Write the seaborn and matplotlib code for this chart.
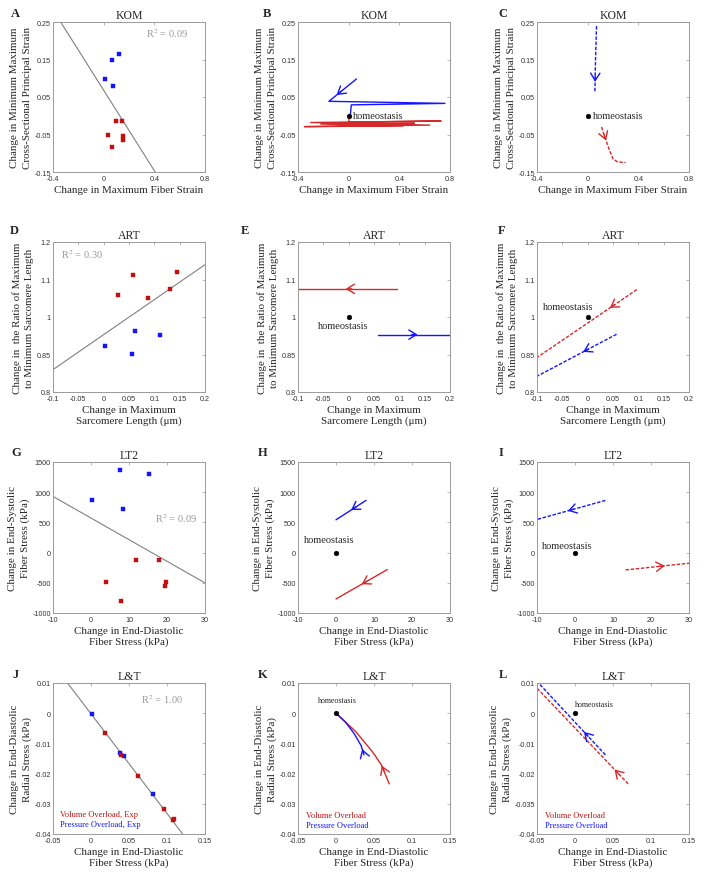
import numpy as np
import pandas as pd
import matplotlib
matplotlib.use("Agg")
import matplotlib.pyplot as plt
import seaborn as sns

sns.set_theme(style="white")
plt.rcParams['font.family'] = ['Liberation Serif', 'DejaVu Serif']
plt.rcParams['mathtext.fontset'] = 'stix'

BLUE = "#1414ff"
RED = "#c01010"
RED_LINE = "#d42a2a"
GRAY_FIT = "#808080"

# ---------------- data ----------------
titles = ["KOM", "ART", "LT2", "L&T"]
letters = ["A", "B", "C", "D", "E", "F", "G", "H", "I", "J", "K", "L"]

xlabels = ["Change in Maximum Fiber Strain",
           "Change in Maximum\nSarcomere Length (\u03bcm)",
           "Change in End-Diastolic\nFiber Stress (kPa)",
           "Change in End-Diastolic\nFiber Stress (kPa)"]
ylabels = ["Change in Minimum Maximum\nCross-Sectional Principal Strain",
           "Change in  the Ratio of Maximum\nto Minimum Sarcomere Length",
           "Change in End-Systolic\nFiber Stress (kPa)",
           "Change in End-Diastolic\nRadial Stress (kPa)"]

xlims = [(-0.4, 0.8), (-0.1, 0.2), (-10, 30), (-0.05, 0.15)]
ylims = [(-0.15, 0.25), (0.8, 1.2), (-1000, 1500), (-0.04, 0.01)]
xticks = [[-0.4, 0, 0.4, 0.8],
          [-0.1, -0.05, 0, 0.05, 0.1, 0.15, 0.2],
          [-10, 0, 10, 20, 30],
          [-0.05, 0, 0.05, 0.1, 0.15]]
xticklabels = [["-0.4", "0", "0.4", "0.8"],
               ["-0.1", "-0.05", "0", "0.05", "0.1", "0.15", "0.2"],
               ["-10", "0", "10", "20", "30"],
               ["-0.05", "0", "0.05", "0.1", "0.15"]]
yticks = [[-0.15, -0.05, 0.05, 0.15, 0.25],
          [0.8, 0.9, 1.0, 1.1, 1.2],
          [-1000, -500, 0, 500, 1000, 1500],
          [-0.04, -0.03, -0.02, -0.01, 0, 0.01]]
yticklabels = [["-0.15", "-0.05", "0.05", "0.15", "0.25"],
               ["0.8", "0.85", "1", "1.1", "1.2"],
               ["-1000", "-500", "0", "500", "1000", "1500"],
               ["-0.04", "-0.03", "-0.02", "-0.01", "0", "0.01"]]
yticklabels_L = ["-0.04", "-0.035", "-0.02", "-0.01", "0", "0.01"]

# Column 1: experimental scatter (blue = pressure overload, red = volume overload)
A_blue_x = [0.118, 0.066, 0.008, 0.071]
A_blue_y = [0.166, 0.148, 0.098, 0.080]
A_red_x = [0.094, 0.141, 0.037, 0.155, 0.155, 0.068]
A_red_y = [-0.015, -0.015, -0.050, -0.053, -0.065, -0.082]
A_fit = (0.068, -0.536)   # intercept, slope
A_r2 = "R$^2$ = 0.09"

D_blue_x = [0.002, 0.061, 0.111, 0.055]
D_blue_y = [0.924, 0.964, 0.951, 0.902]
D_red_x = [0.058, 0.145, 0.028, 0.087, 0.130]
D_red_y = [1.112, 1.119, 1.060, 1.050, 1.075]
D_fit = (0.953, 0.933)
D_r2 = "R$^2$ = 0.30"

G_blue_x = [7.6, 15.3, 0.2, 8.5]
G_blue_y = [1373, 1295, 875, 720]
G_red_x = [11.9, 17.9, 3.9, 19.8, 19.6, 8.0]
G_red_y = [-121, -121, -480, -491, -546, -801]
G_fit = (572, -35.8)
G_r2 = "R$^2$ = 0.09"

J_blue_x = [0.0018, 0.0376, 0.043, 0.081]
J_blue_y = [-0.0002, -0.0131, -0.0143, -0.0268]
J_red_x = [0.019, 0.040, 0.0615, 0.096, 0.108, 0.109]
J_red_y = [-0.0066, -0.0137, -0.0208, -0.0317, -0.0352, -0.0350]
J_fit = (-0.0002, -0.33)
J_r2 = "R$^2$ = 1.00"

# Column 2: model trajectories (solid)
B_blue_x = [0.061, -0.156, 0.760, 0.021, 0.013]
B_blue_y = [0.098, 0.0385, 0.033, 0.029, 0.002]
B_red_x = [0.004, 0.0, 0.730, -0.300, 0.640, -0.350, 0.430, -0.220, 0.520, -0.080, 0.300, -0.150, 0.200]
B_red_y = [-0.002, -0.017, -0.014, -0.018, -0.025, -0.029, -0.027, -0.022, -0.020, -0.024, -0.026, -0.021, -0.019]

E_blue_x = [0.058, 0.2]
E_blue_y = [0.953, 0.953]
E_red_x = [0.096, -0.1]
E_red_y = [1.075, 1.075]

H_blue_x = [7.9, 0.0]
H_blue_y = [864, 543]
H_red_x = [13.5, 0.0]
H_red_y = [-281, -768]

K_blue_x = [0.0, 0.013, 0.024, 0.033, 0.036]
K_blue_y = [0.0, -0.0031, -0.0068, -0.0107, -0.0131]
K_red_x = [0.0, 0.026, 0.048, 0.060, 0.070]
K_red_y = [0.0, -0.0061, -0.0128, -0.0172, -0.0234]

# Column 3: model trajectories (dashed)
C_blue_x = [0.07, 0.062, 0.057]
C_blue_y = [0.239, 0.15, 0.064]
C_red_x = [0.11, 0.14, 0.17, 0.20, 0.235, 0.30]
C_red_y = [-0.030, -0.061, -0.090, -0.115, -0.123, -0.125]

F_blue_x = [0.057, -0.1]
F_blue_y = [0.954, 0.842]
F_red_x = [0.097, -0.1]
F_red_y = [1.073, 0.892]

I_blue_x = [8.0, -10.0]
I_blue_y = [864, 549]
I_red_x = [13.3, 30.0]
I_red_y = [-287, -176]

L_blue_x = [0.040, -0.048]
L_blue_y = [-0.0138, 0.0100]
L_red_x = [0.070, -0.050]
L_red_y = [-0.0234, 0.0083]

# arrow positions (fraction along path, direction +1 = along path order)
arrows = {
    "B": [("blue", 0.10, 1)],
    "C": [("blue", 0.85, 1), ("red", 0.30, 1)],
    "E": [("blue", 0.55, 1), ("red", 0.52, 1)],
    "F": [("blue", 0.42, 1), ("red", 0.27, 1)],
    "H": [("blue", 0.50, 1), ("red", 0.50, 1)],
    "I": [("blue", 0.55, 1), ("red", 0.62, 1)],
    "K": [("blue", 0.92, -1), ("red", 0.78, -1)],
    "L": [("blue", 0.32, 1), ("red", 0.15, 1)],
}

# ---------------- layout ----------------
W, H = 704, 879
fig = plt.figure(figsize=(W / 100, H / 100), dpi=100)
col_px = [(53, 205), (298, 450), (537, 689)]
row_px = [(23, 173), (243, 393), (463, 614), (684, 835)]

letter_px = [[(15, 14), (267, 14), (503, 14)],
             [(14, 231), (245, 231), (502, 231)],
             [(16, 453), (263, 453), (501, 453)],
             [(16, 675), (263, 675), (503, 675)]]

TICKFS = 5.2
LABFS = 7.9


def make_ax(r, c):
    (x0, x1), (y0, y1) = col_px[c], row_px[r]
    ax = fig.add_axes([x0 / W, 1 - y1 / H, (x1 - x0) / W, (y1 - y0) / H])
    ax.set_xlim(*xlims[r])
    ax.set_ylim(*ylims[r])
    ax.set_xticks(xticks[r])
    ax.set_xticklabels(xticklabels[r], fontfamily='Liberation Sans')
    ax.set_yticks(yticks[r])
    ylab = yticklabels_L if (r == 3 and c == 2) else yticklabels[r]
    ax.set_yticklabels(ylab, fontfamily='Liberation Sans')
    ax.tick_params(direction='in', length=2, width=0.5, colors='#9a9a9a',
                   labelcolor='#333333', labelsize=TICKFS, pad=1.5,
                   top=True, right=True)
    ax.tick_params(axis='x', pad=2.2)
    for s in ax.spines.values():
        s.set_color('#9a9a9a')
        s.set_linewidth(0.7)
    ax.set_xlabel(xlabels[r], fontsize=LABFS, labelpad=2, linespacing=1.2)
    ax.set_ylabel(ylabels[r], fontsize=LABFS, labelpad=2, linespacing=1.45)
    ax.set_title(titles[r], fontsize=LABFS + 0.6, pad=3)
    lx, ly = letter_px[r][c]
    fig.text(lx / W, 1 - ly / H, letters[r * 3 + c], fontsize=9,
             fontweight='bold', ha='center', va='center')
    return ax


def scatter(ax, bx, by, rx, ry, fit, r2, r2pos, r):
    xs = np.array(xlims[r])
    fx = np.linspace(xs[0], xs[1], 2)
    sns.lineplot(x=fx, y=fit[0] + fit[1] * fx, ax=ax, color=GRAY_FIT, lw=0.8)
    sns.scatterplot(x=bx, y=by, ax=ax, color=BLUE, marker='s', s=9,
                    edgecolor=BLUE, linewidth=0.3, zorder=3)
    sns.scatterplot(x=rx, y=ry, ax=ax, color=RED, marker='s', s=9,
                    edgecolor=RED, linewidth=0.3, zorder=3)
    ax.text(r2pos[0], r2pos[1], r2, transform=ax.transAxes, color='#999999',
            fontsize=7.5, ha='center', va='center')


def path_point(ax, xs, ys, frac):
    pts = ax.transData.transform(np.column_stack([xs, ys]))
    seg = np.hypot(*np.diff(pts, axis=0).T)
    cum = np.concatenate([[0], np.cumsum(seg)])
    L = frac * cum[-1]
    i = min(np.searchsorted(cum, L) - 1, len(seg) - 1)
    i = max(i, 0)
    t = (L - cum[i]) / seg[i]
    p = pts[i] + t * (pts[i + 1] - pts[i])
    d = (pts[i + 1] - pts[i]) / seg[i]
    return p, d


def traj(ax, xs, ys, color, dashed):
    df = pd.DataFrame({"x": xs, "y": ys})
    sns.lineplot(data=df, x="x", y="y", ax=ax, sort=False, estimator=None,
                 color=color, lw=1.0, linestyle=(0, (2.5, 1.2)) if dashed else '-')


def arrow(ax, xs, ys, color, frac, sign):
    p, d = path_point(ax, xs, ys, frac)
    d = d * sign
    inv = ax.transData.inverted()
    tip = inv.transform(p)
    tail = inv.transform(p - d * 6)
    ax.annotate("", xy=tip, xytext=tail,
                arrowprops=dict(arrowstyle="->,head_length=0.45,head_width=0.28",
                                color=color, lw=1.0, shrinkA=0, shrinkB=0,
                                mutation_scale=12))


traj_data = {
    "B": (B_blue_x, B_blue_y, B_red_x, B_red_y),
    "C": (C_blue_x, C_blue_y, C_red_x, C_red_y),
    "E": (E_blue_x, E_blue_y, E_red_x, E_red_y),
    "F": (F_blue_x, F_blue_y, F_red_x, F_red_y),
    "H": (H_blue_x, H_blue_y, H_red_x, H_red_y),
    "I": (I_blue_x, I_blue_y, I_red_x, I_red_y),
    "K": (K_blue_x, K_blue_y, K_red_x, K_red_y),
    "L": (L_blue_x, L_blue_y, L_red_x, L_red_y),
}
homeo_y = [0.0, 1.0, 0.0, 0.0]
homeo_text = {
    "B": (0.03, 0.0, 7.5, 'left'), "C": (0.04, 0.0, 7.5, 'left'),
    "E": (-0.011, 0.976, 7.5, 'center'), "F": (-0.039, 1.028, 7.5, 'center'),
    "H": (-1.8, 211, 7.5, 'center'), "I": (-2.1, 117, 7.5, 'center'),
    "K": (0.002, 0.0043, 5.8, 'center'), "L": (0.026, 0.0031, 5.8, 'center'),
}

scat = [
    (A_blue_x, A_blue_y, A_red_x, A_red_y, A_fit, A_r2, (0.75, 0.93)),
    (D_blue_x, D_blue_y, D_red_x, D_red_y, D_fit, D_r2, (0.19, 0.925)),
    (G_blue_x, G_blue_y, G_red_x, G_red_y, G_fit, G_r2, (0.81, 0.63)),
    (J_blue_x, J_blue_y, J_red_x, J_red_y, J_fit, J_r2, (0.72, 0.895)),
]

for r in range(4):
    # column 1
    ax = make_ax(r, 0)
    bx, by, rx, ry, fit, r2, pos = scat[r]
    scatter(ax, bx, by, rx, ry, fit, r2, pos, r)
    if r == 3:
        ax.text(0.045, 0.133, "Volume Overload, Exp", transform=ax.transAxes,
                color=RED, fontsize=6, va='center')
        ax.text(0.045, 0.066, "Pressure Overload, Exp", transform=ax.transAxes,
                color=BLUE, fontsize=6, va='center')
    ax.set_xlim(*xlims[r]); ax.set_ylim(*ylims[r])
    # columns 2 and 3
    for c in (1, 2):
        key = letters[r * 3 + c]
        ax = make_ax(r, c)
        bx, by, rx, ry = traj_data[key]
        dashed = (c == 2)
        traj(ax, rx, ry, RED_LINE, dashed)
        traj(ax, bx, by, BLUE, dashed)
        ax.set_xlim(*xlims[r]); ax.set_ylim(*ylims[r])
        for col, frac, sgn in arrows.get(key, []):
            if col == "blue":
                arrow(ax, bx, by, BLUE, frac, sgn)
            else:
                arrow(ax, rx, ry, RED_LINE, frac, sgn)
        sns.scatterplot(x=[0], y=[homeo_y[r]], ax=ax, color='black', s=12,
                        edgecolor='black', zorder=4)
        tx, ty, fs, ha = homeo_text[key]
        ax.text(tx, ty, "homeostasis", fontsize=fs, ha=ha, va='center')
        if r == 3:
            ax.text(0.05, 0.128, "Volume Overload", transform=ax.transAxes,
                    color=RED, fontsize=6, va='center')
            ax.text(0.05, 0.062, "Pressure Overload", transform=ax.transAxes,
                    color=BLUE, fontsize=6, va='center')
        ax.set_xlim(*xlims[r]); ax.set_ylim(*ylims[r])

fig.savefig("out.png", dpi=100)
